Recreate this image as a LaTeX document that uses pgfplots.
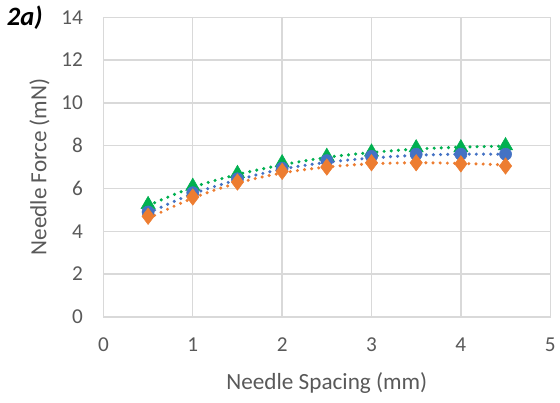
\documentclass[border=0pt]{standalone}
\usepackage{fontspec}
\setmainfont{Carlito}
\usepackage{pgfplots}
\pgfplotsset{compat=1.18}

\definecolor{xlblue}{HTML}{4472C4}
\definecolor{xlorange}{HTML}{ED7D31}
\definecolor{xlgreen}{HTML}{00B050}
\definecolor{xlgrid}{HTML}{D9D9D9}
\definecolor{xltext}{HTML}{595959}

\begin{document}
\begin{tikzpicture}
\begin{axis}[
  name=ax, at={(0,0)}, anchor=south west,
  scale only axis,
  width=337pt, height=226pt,
  xmin=0, xmax=5, ymin=0, ymax=14,
  xtick={0,1,...,5}, ytick={0,2,...,14},
  grid=major,
  major grid style={xlgrid, line width=1pt},
  axis line style={xlgrid, line width=1pt},
  tick style={draw=none},
  ticklabel style={font=\fontsize{16}{18}\selectfont, text=xltext},
  /pgf/number format/assume math mode=true,
  yticklabel style={xshift=-12pt},
  xticklabel style={yshift=-12pt},
  xlabel={Needle Spacing (mm)},
  ylabel={Needle Force (mN)},
  label style={font=\fontsize{17.5}{20}\selectfont, text=xltext},
  xlabel style={yshift=-9pt},
  ylabel style={yshift=2pt},
  clip=false,
]
% markers
\addplot[only marks, mark=triangle*, mark size=6.2pt, color=xlgreen] coordinates {
 (0.5,5.25) (1,6.1) (1.5,6.7) (2,7.2) (2.5,7.5) (3,7.7) (3.5,7.9) (4,7.9) (4.5,8.0)};
\addplot[only marks, mark=*, mark size=4.6pt, color=xlblue] coordinates {
 (0.5,4.9) (1,5.8) (1.5,6.45) (2,6.95) (2.5,7.3) (3,7.5) (3.5,7.6) (4,7.6) (4.5,7.6)};
\addplot[only marks, mark=diamond*, mark size=6.2pt, color=xlorange] coordinates {
 (0.5,4.7) (1,5.6) (1.5,6.3) (2,6.8) (2.5,7.0) (3,7.2) (3.5,7.2) (4,7.15) (4.5,7.05)};
% dotted trendlines
\addplot[xlgreen, line width=2.6pt, line cap=round, dash pattern=on 0pt off 5.4pt, smooth, tension=0.6] coordinates {
 (0.5,5.2) (1,6.05) (1.5,6.65) (2,7.1) (2.5,7.45) (3,7.68) (3.5,7.84) (4,7.93) (4.5,7.98)};
\addplot[xlblue, line width=2.6pt, line cap=round, dash pattern=on 0pt off 5.4pt, smooth, tension=0.6] coordinates {
 (0.5,4.85) (1,5.75) (1.5,6.4) (2,6.9) (2.5,7.22) (3,7.42) (3.5,7.55) (4,7.6) (4.5,7.6)};
\addplot[xlorange, line width=2.6pt, line cap=round, dash pattern=on 0pt off 5.4pt, smooth, tension=0.6] coordinates {
 (0.5,4.6) (1,5.55) (1.5,6.25) (2,6.72) (2.5,7.0) (3,7.15) (3.5,7.2) (4,7.17) (4.5,7.1)};
\end{axis}
\node[anchor=base west, font=\fontsize{20}{22}\selectfont\bfseries\itshape, inner sep=0pt]
  at (-73pt,220pt) {2a)};
\useasboundingbox (-78pt,-64.7pt) rectangle (342pt,239pt);
\end{tikzpicture}
\end{document}
